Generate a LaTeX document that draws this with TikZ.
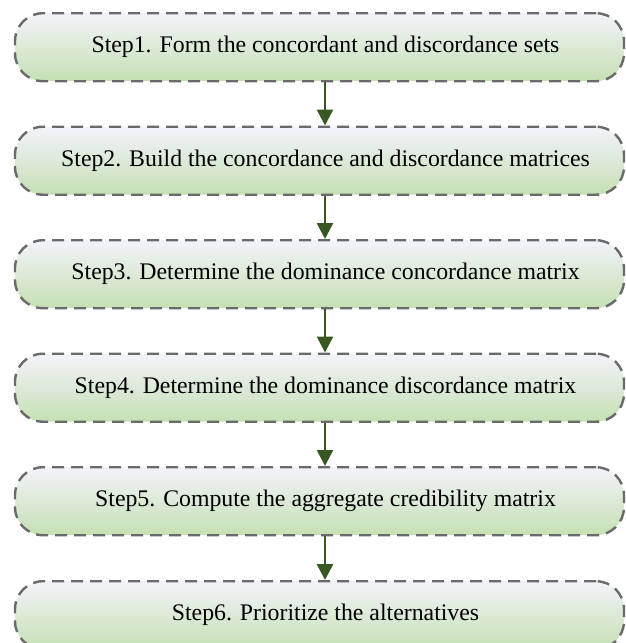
\documentclass[tikz,border=0pt]{standalone}
\usepackage{fontspec}
\setmainfont{Liberation Serif}
\usetikzlibrary{arrows.meta}
\definecolor{boxtop}{HTML}{F3F3FA}
\definecolor{boxbot}{HTML}{C5E0B4}
\definecolor{boxline}{HTML}{6A6A6A}
\definecolor{arrowgreen}{HTML}{385723}
\tikzset{
  stepbox/.style={rounded corners=28pt, draw=boxline, line width=2.4pt,
    dash pattern=on 12pt off 7pt, top color=boxtop, bottom color=boxbot,
    minimum width=609pt, minimum height=68pt, inner sep=0pt,
    font=\fontsize{23.8}{26}\selectfont, anchor=north,
    execute at begin node={\hspace*{12pt}}},
  flowarrow/.style={draw=arrowgreen, line width=2.6pt,
    -{Triangle[length=16pt,width=16pt]}}
}
\begin{document}
\begin{tikzpicture}[x=1pt,y=-1pt]
\useasboundingbox (0,0) rectangle (625,643);
\node[stepbox] (s1) at (319.5,12) {Step1. Form the concordant and discordance sets};
\node[stepbox] (s2) at (319.5,125.5) {Step2. Build the concordance and discordance matrices};
\node[stepbox] (s3) at (319.5,239) {Step3. Determine the dominance concordance matrix};
\node[stepbox] (s4) at (319.5,352.5) {Step4. Determine the dominance discordance matrix};
\node[stepbox] (s5) at (319.5,466) {Step5. Compute the aggregate credibility matrix};
\node[stepbox] (s6) at (319.5,580) {Step6. Prioritize the alternatives};
\foreach \a/\b in {s1/s2,s2/s3,s3/s4,s4/s5,s5/s6}{
  \draw[flowarrow] ([xshift=5.5pt]\a.south) -- ([xshift=5.5pt]\b.north);
}
\end{tikzpicture}
\end{document}
